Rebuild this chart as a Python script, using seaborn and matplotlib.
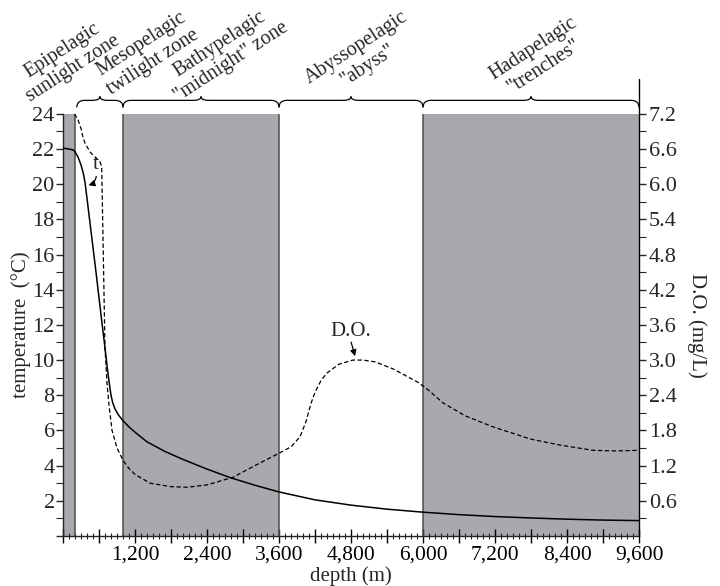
import numpy as np
import pandas as pd
import seaborn as sns
import matplotlib.pyplot as plt
from matplotlib.path import Path
from matplotlib.patches import PathPatch
from matplotlib.ticker import MultipleLocator, FuncFormatter, FixedLocator

# temperature profile (deg C) vs depth (m)
temp_depth = [0, 100, 170, 200, 250, 300, 340, 367, 400, 450, 550, 650, 700, 740, 770, 800,
              830, 870, 920, 1000, 1100, 1200, 1400, 1700, 2000, 2400, 2800, 3200, 3600,
              4200, 4800, 5400, 6000, 6600, 7200, 7800, 8400, 9000, 9600]
temp_vals = [22.05, 22.0, 21.95, 21.85, 21.55, 21.1, 20.6, 20.1, 19.2, 17.8, 15.0, 12.1,
             10.7, 9.5, 8.7, 8.0, 7.55, 7.2, 6.9, 6.55, 6.2, 5.9, 5.35, 4.8, 4.35, 3.8,
             3.3, 2.88, 2.5, 2.05, 1.75, 1.52, 1.35, 1.21, 1.1, 1.02, 0.95, 0.9, 0.87]

# dissolved oxygen (mg/L) vs depth (m)
do_depth = [190, 250, 300, 333, 367, 450, 550, 617, 645, 700, 733, 770, 817, 900, 1000,
            1100, 1200, 1450, 1800, 2067, 2400, 2833, 3200, 3600, 3800, 3950, 4050, 4130,
            4200, 4300, 4400, 4600, 4833, 5000, 5200, 5500, 5917, 6100, 6333, 6700, 7167,
            7800, 8283, 8833, 9200, 9600]
do_vals = [7.2, 7.1, 6.95, 6.8, 6.7, 6.55, 6.45, 6.38, 6.3, 3.2, 2.6, 2.2, 1.8, 1.5, 1.29,
           1.15, 1.05, 0.9, 0.84, 0.83, 0.87, 1.0, 1.2, 1.41, 1.52, 1.69, 1.95, 2.25,
           2.45, 2.65, 2.78, 2.93, 3.0, 3.0, 2.97, 2.85, 2.62, 2.48, 2.27, 2.05, 1.86,
           1.65, 1.55, 1.46, 1.45, 1.46]

# ocean zones
shaded_zones = [(0, 200), (1000, 3600), (6000, 9600)]
zone_edges = [200, 1000, 3600, 6000]
brace_spans = [(230, 1000), (1000, 3600), (3600, 6000), (6000, 9600)]
zone_labels = ['Epipelagic\nsunlight zone', 'Mesopelagic\ntwilight zone',
               'Bathypelagic\n"midnight" zone', 'Abyssopelagic\n"abyss"',
               'Hadapelagic\n"trenches"']
label_pos = [(80, 27.1), (1400, 27.45), (2700, 27.45), (4990, 27.25), (7930, 27.2)]

sns.set_style('ticks')
plt.rcParams['font.family'] = ['Liberation Serif', 'DejaVu Serif']
plt.rcParams['font.size'] = 15

fig = plt.figure(figsize=(7.2, 5.86), dpi=100)
ax = fig.add_axes([63 / 720, 1 - 535.9 / 586, 576 / 720, 422 / 586])
ax2 = ax.twinx()

gray = '#a8a9ac'
for a, b in shaded_zones:
    ax.axvspan(a, b, ymin=0, ymax=1, color=gray, lw=0, zorder=0)
for e in zone_edges:
    ax.plot([e, e], [0, 24], color='#4d4d4d', lw=1.1, zorder=1)

temp_df = pd.DataFrame({'depth': temp_depth, 'temp': temp_vals})
do_df = pd.DataFrame({'depth': do_depth, 'do': do_vals})
sns.lineplot(data=temp_df, x='depth', y='temp', ax=ax, color='black', lw=1.1,
             sort=False, zorder=3)
sns.lineplot(data=do_df, x='depth', y='do', ax=ax2, color='black', lw=0.9,
             sort=False, zorder=3)
ax2.lines[0].set_dashes([3.5, 2])

ax.set_xlim(0, 9600)
ax.set_ylim(0, 24)
ax2.set_ylim(0, 7.2)

# spines
for s in ['top', 'right']:
    ax.spines[s].set_visible(False)
for s in ['top', 'right', 'left', 'bottom']:
    ax2.spines[s].set_visible(False)
ax.spines['left'].set_linewidth(1)
ax.spines['bottom'].set_linewidth(1)
ax.plot([9600, 9600], [0, 26], color='black', lw=1, clip_on=False, zorder=4)

# x ticks
ax.xaxis.set_major_locator(MultipleLocator(600))
ax.xaxis.set_minor_locator(MultipleLocator(100))
ax.xaxis.set_major_formatter(FuncFormatter(
    lambda v, p: f'{int(v):,}' if v > 0 and int(v) % 1200 == 0 else ''))
ax.tick_params(axis='x', which='major', direction='inout', length=10, width=1,
               labelsize=15.5, pad=2, colors='black')
ax.tick_params(axis='x', which='minor', direction='inout', length=5, width=0.8)

# left y ticks
ax.yaxis.set_major_locator(FixedLocator(list(range(0, 25, 2))))
ax.yaxis.set_minor_locator(FixedLocator(list(range(1, 24, 2))))
ax.yaxis.set_major_formatter(FuncFormatter(lambda v, p: f'{int(v)}' if v > 0 else ''))
ax.tick_params(axis='y', which='major', direction='out', length=5, width=1,
               labelsize=16, pad=1)
ax.tick_params(axis='y', which='minor', direction='out', length=5, width=0.8)

# right y ticks
r_major = [round(0.6 * i, 1) for i in range(1, 13)]
r_minor = [round(0.3 + 0.6 * i, 1) for i in range(12)]
ax2.yaxis.set_major_locator(FixedLocator(r_major))
ax2.yaxis.set_minor_locator(FixedLocator(r_minor))
ax2.yaxis.set_major_formatter(FuncFormatter(lambda v, p: f'{v:.1f}'))
ax2.tick_params(axis='y', which='major', direction='out', length=5, width=1,
                labelsize=16, pad=2)
ax2.tick_params(axis='y', which='minor', direction='out', length=5, width=0.8)

ax.set_xlabel('depth (m)', fontsize=15, labelpad=1)
ax.set_ylabel('temperature  (°C)', fontsize=15, labelpad=1)
ax2.set_ylabel('D.O. (mg/L)', fontsize=15, rotation=-90, labelpad=22)


def draw_brace(a, x0, x1, y=24.77, down=0.4, up=0.22, r=130):
    xm = (x0 + x1) / 2
    verts = [(x0, y - down), (x0, y), (x0 + r, y),
             (xm - r, y), (xm, y), (xm, y + up),
             (xm, y), (xm + r, y),
             (x1 - r, y), (x1, y), (x1, y - down)]
    codes = [Path.MOVETO, Path.CURVE3, Path.CURVE3,
             Path.LINETO, Path.CURVE3, Path.CURVE3,
             Path.CURVE3, Path.CURVE3,
             Path.LINETO, Path.CURVE3, Path.CURVE3]
    a.add_patch(PathPatch(Path(verts, codes), fill=False, lw=0.9,
                          edgecolor='black', clip_on=False))


for x0, x1 in brace_spans:
    draw_brace(ax, x0, x1)

for txt, (lx, ly) in zip(zone_labels, label_pos):
    ax.text(lx, ly, txt, rotation=33, rotation_mode='anchor', ha='center',
            va='center', multialignment='center', fontsize=14.5, linespacing=1.15,
            clip_on=False)

# arrows
ax.annotate('', xy=(120, 24.05), xytext=(10, 25.5),
            arrowprops=dict(arrowstyle='-|>', color='black', lw=0.9,
                            connectionstyle='arc3,rad=-0.35', mutation_scale=9))
ax.text(540, 21.1, 't', fontsize=15, ha='center', va='center')
ax.annotate('', xy=(380, 19.9), xytext=(560, 20.6),
            arrowprops=dict(arrowstyle='-|>', color='black', lw=0.9,
                            connectionstyle='arc3,rad=-0.4', mutation_scale=9))
ax.text(4800, 11.6, 'D.O.', fontsize=15, ha='center', va='center')
ax2.annotate('', xy=(4880, 3.02), xytext=(4790, 3.35),
             arrowprops=dict(arrowstyle='-|>', color='black', lw=0.9,
                             mutation_scale=9))

plt.savefig('out.png', dpi=100)
